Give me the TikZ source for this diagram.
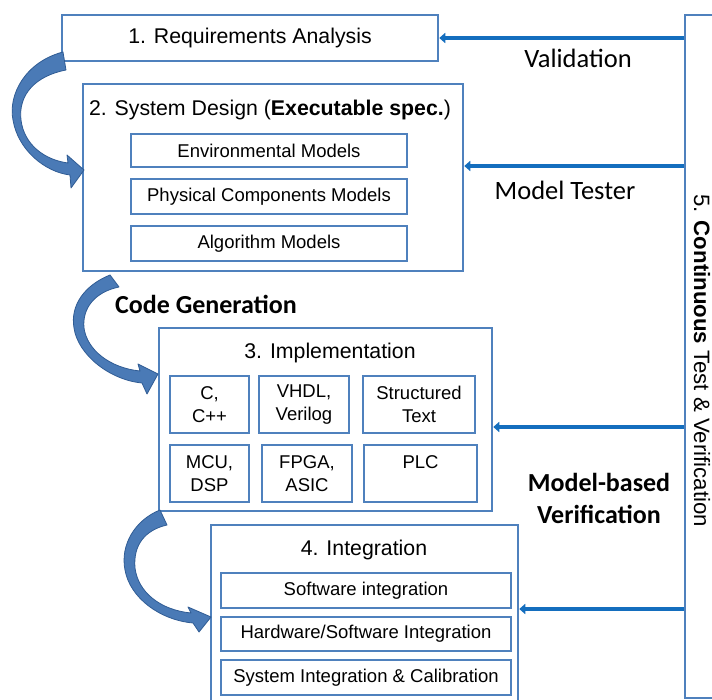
\documentclass[tikz,border=0pt]{standalone}
\usepackage{fontspec}
\setmainfont{Liberation Sans}
\newfontfamily\calfont{Carlito}
\usetikzlibrary{arrows.meta}
\definecolor{boxblue}{RGB}{79,129,189}
\definecolor{arrblue}{RGB}{20,110,190}
\definecolor{curvefill}{RGB}{74,122,182}
\definecolor{curvedark}{RGB}{48,92,148}
\begin{document}
\begin{tikzpicture}[x=1pt,y=-1pt,
  bigbox/.style={draw=boxblue,line width=2.5pt,fill=white,inner sep=0pt},
  smallbox/.style={draw=boxblue,line width=2.5pt,fill=white,inner sep=0pt},
  ttl/.style={font=\fontsize{21.3}{25}\selectfont,inner sep=0pt},
  sm/.style={font=\fontsize{18.5}{23}\selectfont,align=center,inner sep=0pt},
  calb/.style={font=\calfont\bfseries\fontsize{26}{32}\selectfont,align=center,inner sep=0pt},
  calr/.style={font=\calfont\fontsize{26.5}{30}\selectfont,inner sep=0pt},
  hline/.style={draw=arrblue,line width=4pt,-{Triangle[length=6pt,width=10pt]}},
  curved/.style={fill=curvefill,draw=curvedark,line width=0.8pt,line join=round}]
\clip (0,0) rectangle (712,700);
\fill[white] (0,0) rectangle (712,700);

% box 5
\node[bigbox,minimum width=55pt,minimum height=683pt] (b5) at (712.5,356.5) {};
\node[rotate=-90,font=\fontsize{22.2}{26}\selectfont,inner sep=0pt] (t5) at (702,360.5) {5. \textbf{Continuous} Test \& Verification};

% box 1
\node[bigbox,minimum width=376pt,minimum height=46pt,ttl] (b1) at (250,38) {1. Requirements Analysis};

% box 2
\node[bigbox,minimum width=380pt,minimum height=187pt] (b2) at (273,177.5) {};
\node[ttl] (t2) at (270,110) {2. System Design (\textbf{Executable spec.})};
\node[smallbox,minimum width=276pt,minimum height=33pt,sm] (env) at (269,150.5) {Environmental Models};
\node[smallbox,minimum width=276pt,minimum height=35pt,sm] (phy) at (269,196.5) {Physical Components Models};
\node[smallbox,minimum width=276pt,minimum height=35pt,sm] (alg) at (269,243.5) {Algorithm Models};

% box 3
\node[bigbox,minimum width=333pt,minimum height=183pt] (b3) at (325.5,419.5) {};
\node[ttl] (t3) at (330,353) {3. Implementation};
\node[smallbox,minimum width=79pt,minimum height=57pt,sm] (c) at (209.5,404.5) {C,\\C++};
\node[smallbox,minimum width=90pt,minimum height=57pt,sm] (vhdl) at (304,404.5) {VHDL,\\Verilog};
\node[smallbox,minimum width=112pt,minimum height=57pt,sm] (st) at (419,404.5) {Structured\\Text};
\node[smallbox,minimum width=79pt,minimum height=57pt,sm] (mcu) at (209.5,473.5) {MCU,\\DSP};
\node[smallbox,minimum width=90pt,minimum height=57pt,sm] (fpga) at (307,473.5) {FPGA,\\ASIC};
\node[smallbox,minimum width=113pt,minimum height=57pt] (plc) at (420.5,473.5) {};
\node[sm] (plct) at (420.5,462) {PLC};

% box 4
\node[bigbox,minimum width=307pt,minimum height=195pt] (b4) at (364.5,622.5) {};
\node[ttl] (t4) at (364,550) {4. Integration};
\node[smallbox,minimum width=290pt,minimum height=35pt,sm] (sw) at (366,590.5) {Software integration};
\node[smallbox,minimum width=290pt,minimum height=34pt,sm] (hw) at (366,634) {Hardware/Software Integration};
\node[smallbox,minimum width=290pt,minimum height=35pt,sm] (sys) at (366,677.5) {System Integration \& Calibration};

% labels
\node[calr] (val) at (578,58) {Validation};
\node[calr] (mt) at (565,190) {Model Tester};
\node[calb] (cg) at (206,304) {Code Generation};
\node[calb] (mbv) at (599,498) {Model-based\\Verification};

% horizontal arrows
\coordinate (a1) at (0,38);
\coordinate (a2) at (0,166);
\coordinate (a3) at (0,427);
\coordinate (a4) at (0,609);
\draw[hline] (b5.west |- a1) -- (b1.east |- a1);
\draw[hline] (b5.west |- a2) -- (b2.east |- a2);
\draw[hline] (b5.west |- a3) -- (b3.east |- a3);
\draw[hline] (b5.west |- a4) -- (b4.east |- a4);

% curved arrows
\path[curved] (63,52) .. controls (25,62) and (8,95) .. (13,120)
  .. controls (18,150) and (45,172) .. (70,175)
  -- (71,188) -- (84,170) -- (67,155) -- (68,163)
  .. controls (45,160) and (24,145) .. (21,120)
  .. controls (18,95) and (35,76) .. (66,70) -- cycle;
\path[curved] (110,275) .. controls (85,285) and (70,305) .. (74,328)
  .. controls (78,355) and (110,380) .. (142,383)
  -- (147,394) -- (158,374) -- (138,364) -- (140,371)
  .. controls (110,368) and (87,350) .. (84,328)
  .. controls (82,308) and (95,292) .. (119,287) -- cycle;
\path[curved] (160,510) .. controls (135,520) and (120,545) .. (125,570)
  .. controls (130,598) and (160,620) .. (193,623)
  -- (199,632) -- (211,617) -- (188,607) -- (191,613)
  .. controls (160,610) and (138,592) .. (135,568)
  .. controls (133,545) and (145,530) .. (167,525) -- cycle;
\end{tikzpicture}
\end{document}
